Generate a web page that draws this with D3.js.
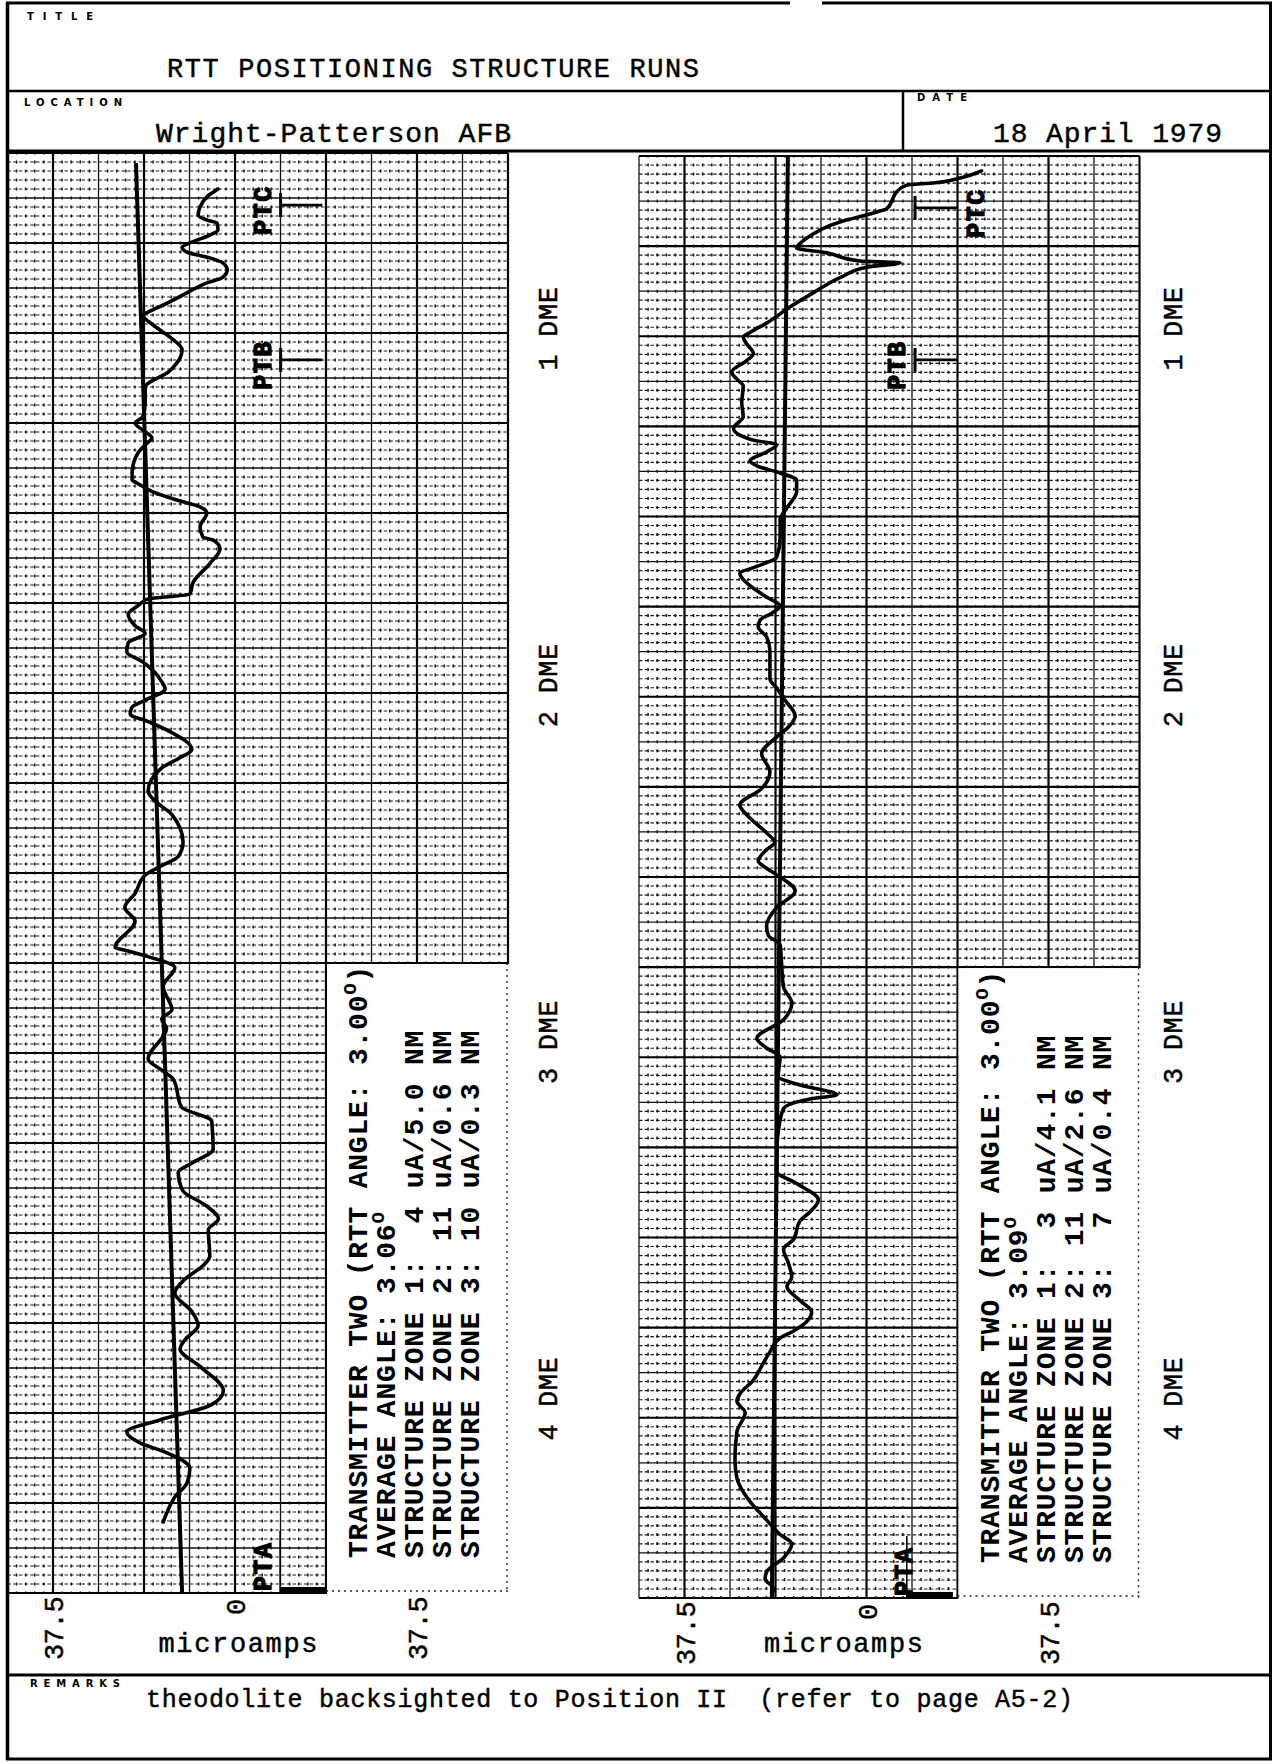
<!DOCTYPE html>
<html><head><meta charset="utf-8">
<script src="https://cdn.jsdelivr.net/npm/d3@7"></script>
<style>
body{margin:0;background:#fff}
svg{display:block}
text{font-family:"Liberation Mono","DejaVu Sans Mono",monospace;fill:#000;white-space:pre}
.ty{stroke:#000;stroke-width:0.45px}
</style></head><body>
<svg id="c" width="1275" height="1762"></svg>
<script>
// ---------------- DATA ----------------
const titleText = "RTT POSITIONING STRUCTURE RUNS";
const locationText = "Wright-Patterson AFB";
const dateText = "18 April 1979";
const remarksText = "theodolite backsighted to Position II  (refer to page A5-2)";
const formLabels = ["TITLE","LOCATION","DATE","REMARKS"];
const dmeTicks = [1,2,3,4];
const uaTicks = [-37.5,0,37.5];
const axisTitle = "microamps";
const uaDomain = [-46.875, 56.25];      // chart paper width in microamps
const paperMajors = 16;                  // chart paper height in major divisions
const ptLabels = ["PTC","PTB","PTA"];
const leftPtDME = [0.654, 1.088, 4.545];
const rightPtDME = [0.662, 1.088, 4.556];

// trace: [DME, microamps]
const leftTrace = [[0.609,-3.5],[0.631,-5.8],[0.659,-7.2],[0.682,-7.6],[0.696,-5.8],[0.704,-3.7],[0.724,-3.5],[0.738,-5.2],[0.758,-8.9],[0.772,-10.9],[0.786,-9.9],[0.802,-5.2],[0.816,-2.5],[0.836,-1.6],[0.858,-2.7],[0.872,-5.8],[0.900,-9.9],[0.929,-14.0],[0.954,-17.9],[0.962,-19.0],[0.990,-16.9],[1.024,-13.4],[1.060,-10.9],[1.097,-12.0],[1.125,-14.0],[1.150,-17.5],[1.164,-18.5],[1.209,-18.5],[1.248,-19.0],[1.265,-20.6],[1.285,-19.0],[1.307,-17.1],[1.321,-18.1],[1.349,-20.0],[1.405,-21.2],[1.425,-21.2],[1.433,-20.2],[1.458,-16.9],[1.481,-12.0],[1.500,-7.2],[1.517,-5.8],[1.556,-7.2],[1.585,-6.6],[1.593,-4.5],[1.618,-3.1],[1.659,-5.2],[1.711,-8.6],[1.745,-9.3],[1.758,-17.9],[1.776,-19.9],[1.802,-22.0],[1.833,-20.6],[1.855,-18.5],[1.881,-22.0],[1.907,-22.3],[1.933,-19.2],[1.990,-15.1],[2.011,-14.4],[2.042,-18.5],[2.063,-21.3],[2.081,-21.6],[2.102,-17.9],[2.128,-13.7],[2.180,-8.9],[2.206,-11.7],[2.232,-15.1],[2.297,-17.9],[2.324,-16.5],[2.363,-13.0],[2.441,-10.7],[2.480,-11.7],[2.506,-15.1],[2.532,-18.5],[2.584,-20.6],[2.623,-22.7],[2.662,-20.6],[2.735,-24.7],[2.745,-22.0],[2.761,-17.9],[2.792,-12.4],[2.844,-14.8],[2.910,-13.0],[2.936,-15.1],[2.962,-14.1],[3.048,-17.9],[3.079,-15.1],[3.105,-12.7],[3.183,-11.0],[3.222,-4.8],[3.301,-4.5],[3.340,-8.9],[3.366,-11.7],[3.418,-10.7],[3.457,-6.2],[3.496,-3.4],[3.527,-5.5],[3.600,-5.2],[3.626,-6.5],[3.665,-10.3],[3.704,-12.4],[3.756,-8.9],[3.795,-7.6],[3.835,-10.3],[3.861,-11.3],[3.913,-6.9],[3.978,-2.4],[4.017,-4.8],[4.060,-15.5],[4.093,-22.3],[4.124,-19.6],[4.150,-14.4],[4.195,-9.3],[4.237,-9.9],[4.276,-12.4],[4.312,-13.8],[4.346,-14.8]];

const rightTrace = [[0.558,23.7],[0.578,19.3],[0.592,13.7],[0.598,8.3],[0.617,6.2],[0.643,5.2],[0.664,4.2],[0.676,1.4],[0.696,-4.1],[0.715,-8.2],[0.735,-11.0],[0.762,-13.7],[0.774,-14.4],[0.788,-8.2],[0.811,-1.3],[0.816,6.9],[0.828,0.0],[0.853,-4.8],[0.900,-11.0],[0.940,-15.8],[0.985,-20.6],[1.011,-24.0],[1.024,-25.4],[1.043,-24.7],[1.070,-23.3],[1.090,-24.7],[1.122,-27.8],[1.142,-26.7],[1.161,-25.4],[1.208,-25.7],[1.247,-25.4],[1.280,-27.4],[1.313,-23.3],[1.326,-18.5],[1.346,-20.6],[1.371,-24.0],[1.385,-22.6],[1.405,-17.8],[1.425,-14.4],[1.457,-14.4],[1.503,-16.4],[1.536,-17.8],[1.587,-17.8],[1.641,-18.5],[1.667,-22.6],[1.687,-26.1],[1.713,-24.7],[1.753,-20.6],[1.778,-17.8],[1.798,-19.5],[1.817,-21.9],[1.837,-22.3],[1.864,-20.6],[1.903,-19.9],[1.982,-19.9],[2.008,-18.5],[2.042,-16.8],[2.086,-14.7],[2.113,-15.8],[2.145,-18.5],[2.192,-21.6],[2.243,-19.9],[2.290,-21.6],[2.336,-26.1],[2.363,-24.7],[2.414,-20.6],[2.441,-18.9],[2.461,-20.6],[2.493,-22.3],[2.513,-20.6],[2.532,-18.5],[2.577,-14.7],[2.623,-18.5],[2.675,-20.6],[2.702,-20.2],[2.728,-17.8],[2.780,-17.5],[2.846,-17.1],[2.891,-15.4],[2.938,-17.1],[2.990,-22.6],[3.017,-20.6],[3.042,-17.8],[3.096,-18.2],[3.121,-13.7],[3.148,-6.1],[3.160,-11.6],[3.187,-17.1],[3.253,-18.2],[3.305,-18.5],[3.364,-18.5],[3.397,-14.4],[3.443,-9.9],[3.476,-11.6],[3.502,-13.7],[3.555,-15.1],[3.581,-17.1],[3.620,-16.1],[3.659,-15.4],[3.686,-16.4],[3.725,-13.7],[3.757,-11.3],[3.784,-12.3],[3.811,-15.1],[3.830,-17.8],[3.869,-19.9],[3.909,-21.6],[3.948,-23.3],[3.987,-26.1],[4.007,-26.7],[4.040,-25.0],[4.093,-26.7],[4.171,-27.1],[4.223,-26.7],[4.289,-24.0],[4.340,-20.6],[4.381,-17.8],[4.407,-15.4],[4.447,-17.1],[4.486,-20.6],[4.506,-20.9],[4.531,-19.2],[4.556,-19.5]];

// straight average-path lines: [DME, microamps]
const leftAvg = [[0.536,-20.4],[4.545,-10.9]];
const rightAvg = [[0.516,-16.2],[4.556,-19.5]];

const leftInfo = ["TRANSMITTER TWO (RTT ANGLE: 3.00|O|)","AVERAGE ANGLE: 3.06|O","STRUCTURE ZONE 1:  4 uA/5.0 NM","STRUCTURE ZONE 2: 11 uA/0.6 NM","STRUCTURE ZONE 3: 10 uA/0.3 NM"];
const rightInfo = ["TRANSMITTER TWO (RTT ANGLE: 3.00|O|)","AVERAGE ANGLE: 3.09|O","STRUCTURE ZONE 1:  3 uA/4.1 NM","STRUCTURE ZONE 2: 11 uA/2.6 NM","STRUCTURE ZONE 3:  7 uA/0.4 NM"];

// ---------------- DRAW ----------------
const svg = d3.select("#c");
svg.append("rect").attr("width",1275).attr("height",1762).attr("fill","#fff");

const yD = d3.scaleLinear().domain([1,4]).range([328.5,1398.6]);

const charts = [
  {x:d3.scaleLinear().domain(uaDomain).range([7.5,508]), top:153, bottom:1593, trace:leftTrace, avg:leftAvg, info:leftInfo, pt:leftPtDME,
   ptSpan:[9.4,18.0], ptASpan:[9.3,18.75], ptLabelUA:[5.6,5.6,5.6], microDx:3, dmeX:547},
  {x:d3.scaleLinear().domain(uaDomain).range([639,1139.5]), top:156, bottom:1598, trace:rightTrace, avg:rightAvg, info:rightInfo, pt:rightPtDME,
   ptSpan:[10.0,18.9], ptASpan:[8.3,17.8], ptLabelUA:[22.4,6.1,7.5], microDx:-23, dmeX:1172}
];

charts.forEach(c=>{
  const g = svg.append("g");
  const x = c.x;
  const py = d3.scaleLinear().domain([0,paperMajors]).range([c.top,c.bottom]);
  const [x0,x1] = x.range();
  const hVals = d3.range(0,paperMajors*10+1);
  const vVals = d3.range(Math.round(uaDomain[0]/1.875), Math.round(uaDomain[1]/1.875)+1);
  const kind = i => (i%10===0?"major":(Math.abs(i)%5===0?"half":"minor"));
  const styl = {major:[2.2,"#000",null],half:[1.3,"#111",null],minor:[1.2,"#1a1a1a","3.5,2.2"]};
  // horizontal grid
  g.append("g").selectAll("line").data(hVals).join("line")
    .attr("x1",x0).attr("x2",x1).attr("y1",i=>py(i/10)).attr("y2",i=>py(i/10))
    .attr("stroke-width",i=>styl[kind(i)][0]).attr("stroke",i=>styl[kind(i)][1])
    .attr("stroke-dasharray",i=>styl[kind(i)][2]);
  // vertical grid
  const step = py(0.1)-py(0);
  g.append("g").selectAll("line").data(vVals).join("line")
    .attr("x1",i=>x(i*1.875)).attr("x2",i=>x(i*1.875)).attr("y1",c.top).attr("y2",c.bottom)
    .attr("stroke-width",i=>kind(i)==="minor"?1.5:styl[kind(i)][0])
    .attr("stroke",i=>styl[kind(i)][1])
    .attr("stroke-dasharray",i=>kind(i)==="minor"?`3,${(step-3).toFixed(2)}`:null)
    .attr("stroke-dashoffset",1.5);

  // info box
  const bx = x(18.75), by = py(9);
  g.append("rect").attr("x",bx+1).attr("y",by+1).attr("width",x1-bx+1).attr("height",c.bottom-by+2).attr("fill","#fff");
  g.append("line").attr("x1",x1-1).attr("x2",x1-1).attr("y1",by).attr("y2",c.bottom)
    .attr("stroke","#222").attr("stroke-width",1.4).attr("stroke-dasharray","2,4");
  g.append("line").attr("x1",bx).attr("x2",x1).attr("y1",c.bottom-2).attr("y2",c.bottom-2)
    .attr("stroke","#222").attr("stroke-width",1.4).attr("stroke-dasharray","2,4");
  c.info.forEach((s,i)=>{
    const t = g.append("text")
      .attr("transform",`translate(${bx+41+28*i},${c.bottom-35}) rotate(-90)`)
      .attr("font-size",28).attr("font-weight","bold").style("letter-spacing","0.8px");
    const parts = s.split("|");
    parts.forEach((p,k)=>{
      const ts = t.append("tspan").text(p);
      if(k===1) ts.attr("font-size",19).attr("dy","-11");
      if(k===2) ts.attr("dy","11");
    });
  });

  // average line
  const line = d3.line().x(d=>x(d[1])).y(d=>yD(d[0]));
  g.append("path").attr("d",line(c.avg)).attr("fill","none").attr("stroke","#000").attr("stroke-width",4);
  // trace
  g.append("path").attr("d",line.curve(d3.curveMonotoneY)(c.trace))
    .attr("fill","none").attr("stroke","#000").attr("stroke-width",3.6)
    .attr("stroke-linejoin","round").attr("stroke-linecap","round");

  // PT markers
  [0,1].forEach(k=>{
    const yy = yD(c.pt[k]);
    g.append("line").attr("x1",x(c.ptSpan[0])).attr("x2",x(c.ptSpan[1])).attr("y1",yy).attr("y2",yy)
      .attr("stroke","#000").attr("stroke-width",2.8);
    g.append("line").attr("x1",x(c.ptSpan[0])).attr("x2",x(c.ptSpan[0])).attr("y1",yy-12).attr("y2",yy+12)
      .attr("stroke","#000").attr("stroke-width",3);
    g.append("text").attr("transform",`translate(${x(c.ptLabelUA[k])},${yy+5}) rotate(-90)`)
      .attr("text-anchor","middle").attr("dy","0.36em").attr("font-size",25).attr("font-weight","bold")
      .attr("class","ty").style("stroke-width","1.2px").style("letter-spacing","1.5px").text(ptLabels[k]);
  });
  g.append("line").attr("x1",x(c.ptASpan[0])).attr("x2",x(c.ptASpan[0])).attr("y1",c.bottom-62).attr("y2",c.bottom)
    .attr("stroke","#000").attr("stroke-width",1.6);
  g.append("rect").attr("x",x(c.ptASpan[0])).attr("y",c.bottom-6).attr("width",x(c.ptASpan[1])-x(c.ptASpan[0])).attr("height",6).attr("fill","#000");
  g.append("text").attr("transform",`translate(${x(c.ptLabelUA[2])},${c.bottom-2}) rotate(-90)`)
    .attr("dy","0.36em").attr("font-size",25).attr("font-weight","bold").attr("class","ty").style("stroke-width","1.2px")
    .style("letter-spacing","1.5px").text(ptLabels[2]);

  // DME labels
  g.append("g").selectAll("text").data(dmeTicks).join("text")
    .attr("transform",d=>`translate(${c.dmeX},${yD(d)}) rotate(-90)`)
    .attr("text-anchor","middle").attr("dy","0.36em").attr("font-size",27).attr("class","ty")
    .style("letter-spacing","0.6px").text(d=>`${d} DME`);

  // microamp axis (labels only)
  const ax = g.append("g").attr("transform",`translate(0,${c.bottom+67})`)
    .call(d3.axisBottom(x).tickValues(uaTicks).tickFormat(d=>d===0?"0":String(Math.abs(d))).tickSize(0));
  ax.select(".domain").remove();
  ax.selectAll("text")
    .attr("font-family",null).attr("font-size",27).attr("fill","#000").attr("class","ty")
    .attr("transform","rotate(-90)").attr("y",0)
    .attr("x",d=>d===0?53:0).attr("dy","0.36em")
    .attr("text-anchor",d=>d===0?"middle":"start")
    .style("letter-spacing","-0.4px");
  g.append("text").attr("x",x(0)+c.microDx).attr("y",1652).attr("text-anchor","middle").attr("class","ty")
    .attr("font-size",27).attr("textLength",159).attr("lengthAdjust","spacing").text(axisTitle);
});

// ---------------- FORM ----------------
const f = svg.append("g").attr("fill","none").attr("stroke","#000");
f.append("line").attr("x1",7.5).attr("x2",7.5).attr("y1",2).attr("y2",1760).attr("stroke-width",3.5);
f.append("line").attr("x1",1270.5).attr("x2",1270.5).attr("y1",2).attr("y2",1760).attr("stroke-width",3);
f.append("line").attr("x1",6).attr("x2",790).attr("y1",3).attr("y2",3).attr("stroke-width",3);
f.append("line").attr("x1",822).attr("x2",1272).attr("y1",3).attr("y2",3).attr("stroke-width",3);
f.append("line").attr("x1",6).attr("x2",1272).attr("y1",1759).attr("y2",1759).attr("stroke-width",3);
f.append("line").attr("x1",6).attr("x2",1272).attr("y1",91).attr("y2",91).attr("stroke-width",2.5);
f.append("line").attr("x1",6).attr("x2",1272).attr("y1",151).attr("y2",151).attr("stroke-width",3);
f.append("line").attr("x1",903).attr("x2",903).attr("y1",91).attr("y2",151).attr("stroke-width",2.5);
f.append("line").attr("x1",6).attr("x2",1272).attr("y1",1675).attr("y2",1675).attr("stroke-width",3);

const lab = [[27,20,66],[24,106,98],[917,101,50],[30,1687,90]];
formLabels.forEach((s,i)=>{
  svg.append("text").attr("x",lab[i][0]).attr("y",lab[i][1]).attr("textLength",lab[i][2]).attr("lengthAdjust","spacing")
    .attr("font-size",10).attr("font-weight","bold").style("font-family","DejaVu Sans, sans-serif").text(s);
});
svg.append("text").attr("x",167).attr("y",77).attr("font-size",27).attr("class","ty").attr("textLength",532).attr("lengthAdjust","spacing").text(titleText);
svg.append("text").attr("x",156).attr("y",142).attr("font-size",28).attr("class","ty").attr("textLength",355).attr("lengthAdjust","spacing").text(locationText);
svg.append("text").attr("x",993).attr("y",142).attr("font-size",28).attr("class","ty").attr("textLength",229).attr("lengthAdjust","spacing").text(dateText);
svg.append("text").attr("x",146).attr("y",1707).attr("font-size",25).attr("class","ty").attr("textLength",927).attr("lengthAdjust","spacing").text(remarksText);
</script>
</body></html>
